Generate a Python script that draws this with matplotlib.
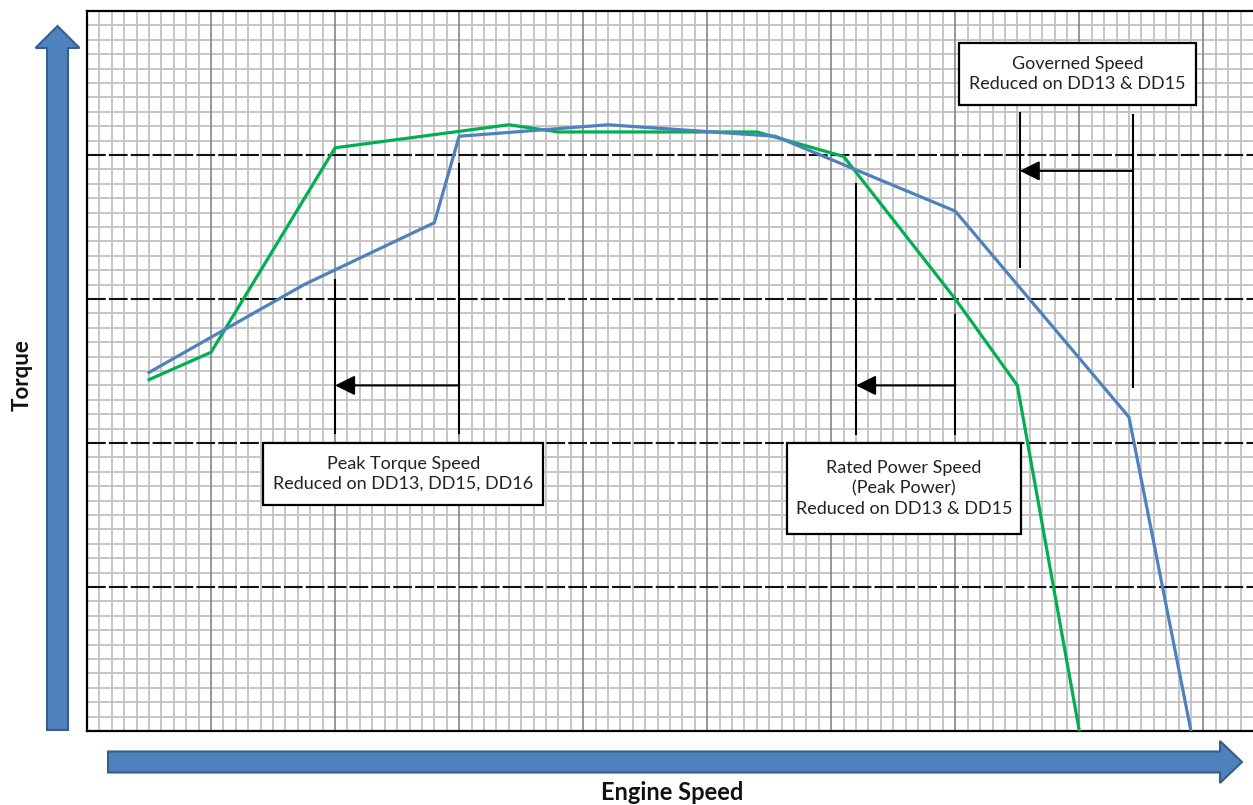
import numpy as np
import matplotlib
matplotlib.use("Agg")
import matplotlib.pyplot as plt
from matplotlib.patches import Rectangle, FancyArrow

# torque curves (x in major grid units, y in major grid units)
green_x = [0.5, 1.0, 2.0, 3.4, 3.8, 5.4, 6.1, 7.0, 7.5, 8.0]
green_y = [2.44, 2.63, 4.05, 4.21, 4.16, 4.16, 3.99, 3.00, 2.40, 0.0]
blue_x = [0.5, 1.75, 2.8, 3.0, 4.2, 5.55, 7.0, 8.4, 8.9]
blue_y = [2.49, 3.10, 3.53, 4.13, 4.21, 4.13, 3.61, 2.18, 0.0]

# reduction markers: (left x, right x, left line y-range, right line y-range, arrow y)
markers = [
    (2.0, 3.0, (2.07, 3.13), (2.07, 3.94), 2.40),
    (6.2, 7.0, (2.06, 3.80), (2.06, 2.89), 2.40),
    (7.52, 8.43, (3.22, 4.29), (2.39, 4.28), 3.89),
]

# label boxes: (x0, x1, y0, y1, text)
boxes = [
    (1.42, 3.68, 1.57, 2.00, "Peak Torque Speed\nReduced on DD13, DD15, DD16"),
    (5.64, 7.53, 1.37, 2.00, "Rated Power Speed\n(Peak Power)\nReduced on DD13 & DD15"),
    (7.03, 8.94, 4.35, 4.78, "Governed Speed\nReduced on DD13 & DD15"),
]

plt.rcParams['font.family'] = ['Lato', 'DejaVu Sans']

W, H = 1253, 805
fig = plt.figure(figsize=(W / 100, H / 100), dpi=100)
ax = fig.add_axes([87 / W, 74 / H, 1 - 87 / W, 720 / H])
ax.set_xlim(0, 9.4)
ax.set_ylim(0, 5)

# graph-paper grid
for v in np.arange(0.1, 9.4, 0.1):
    if abs(v - round(v)) > 1e-6:
        ax.axvline(v, color='#c2c2c2', lw=1.3, zorder=0)
for v in np.arange(0.1, 5.0, 0.1):
    if abs(v - round(v)) > 1e-6:
        ax.axhline(v, color='#c2c2c2', lw=1.3, zorder=0)
for v in range(1, 10):
    ax.axvline(v, color='#7a7a7a', lw=1.1, zorder=1)
for v in range(1, 5):
    ax.axhline(v, color='#111111', lw=1.5, ls=(0, (9, 1.5)), zorder=1)

ax.plot(green_x, green_y, color='#00b050', lw=2.3, zorder=4, clip_on=True)
ax.plot(blue_x, blue_y, color='#4f81bd', lw=2.3, zorder=4, clip_on=True)

for xl, xr, yl, yr, ya in markers:
    ax.plot([xl, xl], yl, color='black', lw=1.5, zorder=3)
    ax.plot([xr, xr], yr, color='black', lw=1.5, zorder=3)
    ax.annotate('', xy=(xl, ya), xytext=(xr, ya),
                arrowprops=dict(arrowstyle='-|>,head_length=0.6,head_width=0.3',
                                mutation_scale=20, color='black', lw=1.5,
                                shrinkA=0, shrinkB=0), zorder=3)

for x0, x1, y0, y1, txt in boxes:
    ax.add_patch(Rectangle((x0, y0), x1 - x0, y1 - y0, facecolor='white',
                           edgecolor='black', lw=1.6, zorder=5))
    ax.text((x0 + x1) / 2, (y0 + y1) / 2, txt, ha='center', va='center',
            fontsize=13, linespacing=1.32, color='#222222', zorder=6)

ax.set_xticks([])
ax.set_yticks([])
for s in ['left', 'top', 'bottom']:
    ax.spines[s].set_linewidth(1.6)
    ax.spines[s].set_color('black')
ax.spines['right'].set_visible(False)

# big blue axis arrows in pixel space
ov = fig.add_axes([0, 0, 1, 1], zorder=10)
ov.set_xlim(0, W)
ov.set_ylim(H, 0)
ov.axis('off')
ov.patch.set_alpha(0)
ov.add_patch(FancyArrow(57.5, 730, 0, -704, width=21, head_width=44,
                        head_length=22, length_includes_head=True,
                        facecolor='#4f81bd', edgecolor='#385d8a', lw=1.5))
ov.add_patch(FancyArrow(108, 762, 1134, 0, width=21, head_width=42,
                        head_length=22, length_includes_head=True,
                        facecolor='#4f81bd', edgecolor='#385d8a', lw=1.5))
ov.text(672, 792, 'Engine Speed', ha='center', va='center', fontsize=17,
        fontweight='bold', color='#111111')
ov.text(22, 375, 'Torque', ha='center', va='center', rotation=90,
        fontsize=16, fontweight='bold', color='#111111')

fig.savefig('out.png', dpi=100)
